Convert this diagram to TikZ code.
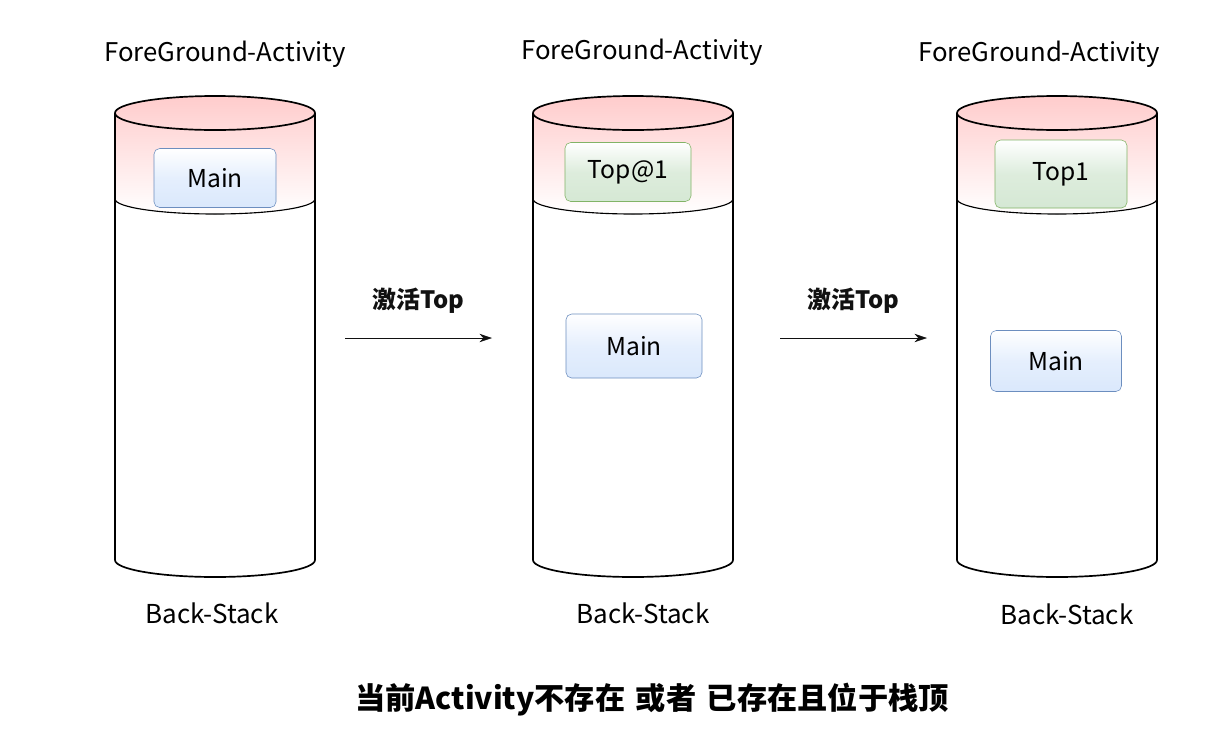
\documentclass[tikz,border=0pt]{standalone}
\usepackage{fontspec}
\usepackage{tikz}
\usetikzlibrary{arrows.meta, positioning, calc}
\setmainfont{Noto Sans CJK SC}
\definecolor{bandtop}{HTML}{FFCCCC}
\definecolor{mainfill}{HTML}{DAE8FC}
\definecolor{mainline}{HTML}{6C8EBF}
\definecolor{topfill}{HTML}{D5E8D4}
\definecolor{topline}{HTML}{82B366}
\definecolor{darkgray}{HTML}{111111}
\tikzset{
  title/.style={font=\fontsize{18.3}{20}\selectfont, text=black},
  stackname/.style={font=\fontsize{18.5}{20}\selectfont, text=black},
  mainbox/.style={
    rectangle, rounded corners=4pt, draw=mainline, thin,
    top color=white, bottom color=mainfill, middle color=mainfill!70,
    font=\fontsize{17.5}{19}\selectfont,
  },
  topbox/.style={
    rectangle, rounded corners=4pt, draw=topline, thin,
    top color=white, bottom color=topfill, middle color=topfill!80,
    font=\fontsize{17.5}{19}\selectfont,
  },
  action/.style={font=\fontsize{17}{19}\selectfont\bfseries},
  arrow/.style={-{Stealth[length=9pt, width=6pt]}, thin, color=darkgray},
  wall/.style={draw=black, line width=1.2pt},
}
% one back-stack cylinder, centred at #1
\newcommand{\backstack}[1]{%
  \fill[top color=bandtop, bottom color=white]
    (#1-100,113) -- (#1-100,199) arc[start angle=180, end angle=0, x radius=100, y radius=15]
    -- (#1+100,113) arc[start angle=0, end angle=-180, x radius=100, y radius=17] -- cycle;
  \draw[wall] (#1,113) ellipse[x radius=100, y radius=17];
  \draw[wall, line width=0.8pt] (#1-100,199) arc[start angle=180, end angle=0, x radius=100, y radius=15];
  \draw[wall] (#1-100,113) -- (#1-100,560)
    arc[start angle=180, end angle=0, x radius=100, y radius=17] -- (#1+100,113);
}

\begin{document}
\begin{tikzpicture}[x=0.025cm, y=-0.025cm]

  \useasboundingbox (0,0) rectangle (1232,745);

  \backstack{215}
  \backstack{633}
  \backstack{1057}

  \node[title] (fg1) at (225,54) {ForeGround-Activity};
  \node[title] (fg2) at (642,52) {ForeGround-Activity};
  \node[title] (fg3) at (1039,54) {ForeGround-Activity};

  \node[mainbox, minimum width=122*0.025cm, minimum height=59*0.025cm] (main1) at (215,178) {Main};
  \node[topbox, minimum width=126*0.025cm, minimum height=59*0.025cm] (top2) at (628,172) {Top@1};
  \node[mainbox, minimum width=136*0.025cm, minimum height=64*0.025cm] (main2) at (634,346) {Main};
  \node[topbox, minimum width=132*0.025cm, minimum height=68*0.025cm] (top3) at (1061,174) {Top1};
  \node[mainbox, minimum width=131*0.025cm, minimum height=61*0.025cm] (main3) at (1056,361) {Main};

  \node[stackname] (bs1) at (212,613) {Back-Stack};
  \node[stackname] (bs2) at (643,613) {Back-Stack};
  \node[stackname] (bs3) at (1067,614) {Back-Stack};

  \coordinate (a1) at (345,338);
  \coordinate (b1) at (492,338);
  \coordinate (a2) at (780,338);
  \coordinate (b2) at (927,338);
  \draw[arrow] (a1) -- node[action, above=14pt]{激活Top} (b1);
  \draw[arrow] (a2) -- node[action, above=14pt]{激活Top} (b2);

  \node[font=\fontsize{21.5}{24}\selectfont\bfseries] (caption) at (652,700)
    {当前Activity不存在\hspace{0.35em}或者\hspace{0.35em}已存在且位于栈顶};

\end{tikzpicture}
\end{document}
